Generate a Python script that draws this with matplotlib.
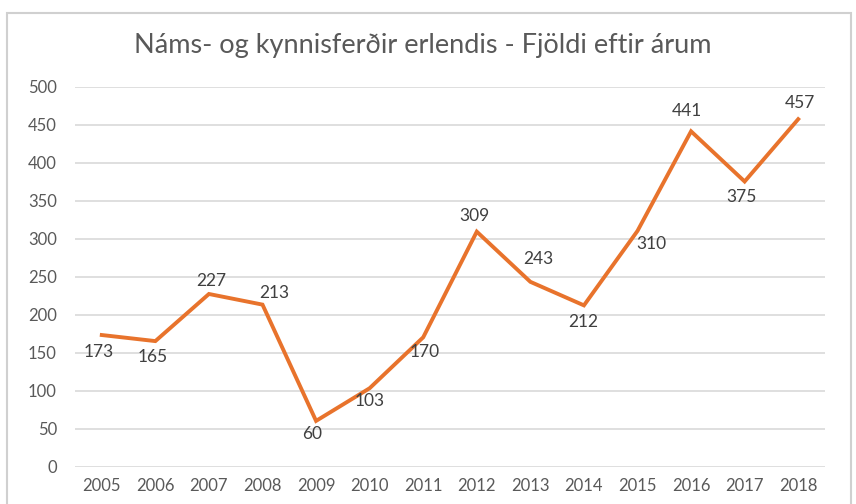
import matplotlib
matplotlib.use("Agg")
import matplotlib.pyplot as plt
from matplotlib.patches import Rectangle

plt.rcParams["font.family"] = ["Lato", "DejaVu Sans"]

years = ["2005", "2006", "2007", "2008", "2009", "2010", "2011",
         "2012", "2013", "2014", "2015", "2016", "2017", "2018"]
counts = [173, 165, 227, 213, 60, 103, 170, 309, 243, 212, 310, 441, 375, 457]
title = "Náms- og kynnisferðir erlendis - Fjöldi eftir árum"

# label offsets in pixels (x right, y up) so labels sit where the original has them
label_offsets = [(-3, -17), (-3, -16), (2, 13), (12, 12), (-4, -13), (0, -13),
                 (1, -15), (-2, 16), (8, 23), (-1, -17), (14, -13), (-4, 20),
                 (-3, -16), (2, 16)]

fig = plt.figure(figsize=(8.56, 5.04), dpi=100)
W, H = 856, 504
ax = fig.add_axes([75 / W, 1 - 466.5 / H, (825 - 75) / W, (466.5 - 86.5) / H])

x = list(range(len(years)))
ax.plot(x, counts, color="#E8732C", lw=2.8, solid_joinstyle="miter", zorder=3)

for xi, v, (dx, dy) in zip(x, counts, label_offsets):
    ax.annotate(str(v), (xi, v), xytext=(dx, dy), textcoords="offset pixels",
                ha="center", va="center", fontsize=12.5, color="#404040", zorder=4)

ax.set_xlim(-0.5, len(years) - 0.5)
ax.set_ylim(0, 500)
ax.set_yticks(range(0, 501, 50))
ax.set_xticks(x)
ax.set_xticklabels(years)
ax.yaxis.grid(True, color="#D9D9D9", lw=1.2)
ax.set_axisbelow(True)
for s in ax.spines.values():
    s.set_visible(False)
ax.tick_params(length=0, labelsize=12, colors="#595959")
ax.tick_params(axis="y", pad=13)
ax.tick_params(axis="x", pad=8)

fig.text(0.5 - 5 / W, 1 - 46 / H, title, ha="center", va="center", fontsize=19.5, color="#595959")

# chart frame
fig.patches.append(Rectangle((7 / W, -0.05), (851 - 7) / W, 1.05 - 13 / H,
                             transform=fig.transFigure, fill=False,
                             edgecolor="#D0D0D0", lw=1.5))

fig.savefig("out.png", dpi=100)
